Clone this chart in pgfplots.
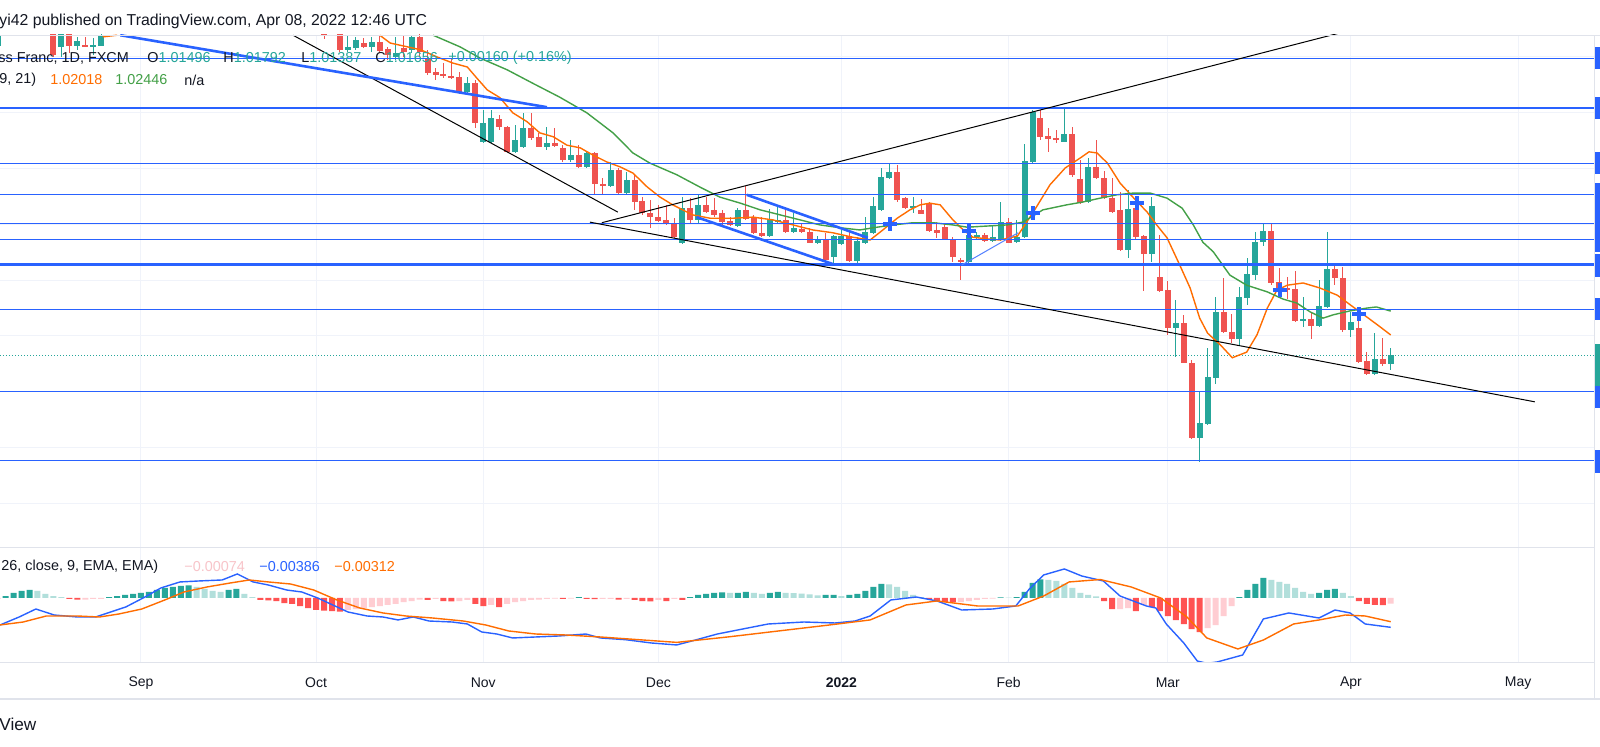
\documentclass[border=0pt]{standalone}
\usepackage{pgfplots}
\pgfplotsset{compat=1.18}
\usepackage{pgfplotstable}
\usepackage{fontspec}
\setmainfont{Liberation Sans}
\definecolor{upc}{HTML}{26A69A}
\definecolor{dnc}{HTML}{EF5350}
\definecolor{emao}{HTML}{FF6D00}
\definecolor{emag}{HTML}{43A047}
\definecolor{tvblue}{HTML}{2962FF}
\definecolor{txt}{HTML}{131722}
\definecolor{gridc}{HTML}{F0F3FA}
\definecolor{sepc}{HTML}{E0E3EB}
\definecolor{hT}{HTML}{26A69A}
\definecolor{hLT}{HTML}{B2DFDB}
\definecolor{hR}{HTML}{FF5252}
\definecolor{hP}{HTML}{FFCDD2}
\definecolor{pinktxt}{HTML}{F8C4C9}
\newcommand\fs[1]{\fontsize{#1}{#1}\selectfont}

\pgfplotstableread{
i o h l c
-18 1.0721 1.0745 1.0716 1.0738
-10 1.0718 1.0755 1.0700 1.0745
-8 1.0720 1.0736 1.0713 1.0729
-6 1.0718 1.0734 1.0704 1.0721
-5 1.0721 1.0745 1.0720 1.0738
26 1.0713 1.0739 1.0709 1.0718
27 1.0716 1.0736 1.0713 1.0730
29 1.0718 1.0736 1.0709 1.0727
32 1.0700 1.0736 1.0695 1.0707
34 1.0713 1.0739 1.0707 1.0736
41 1.0637 1.0664 1.0634 1.0653
43 1.0548 1.0605 1.0546 1.0582
44 1.0548 1.0605 1.0546 1.0591
47 1.0530 1.0578 1.0528 1.0551
48 1.0539 1.0600 1.0537 1.0573
51 1.0539 1.0575 1.0533 1.0546
54 1.0515 1.0551 1.0512 1.0524
56 1.0503 1.0530 1.0501 1.0528
59 1.0469 1.0512 1.0467 1.0497
61 1.0456 1.0494 1.0453 1.0480
68 1.0367 1.0449 1.0365 1.0429
70 1.0408 1.0453 1.0403 1.0435
75 1.0397 1.0429 1.0395 1.0426
79 1.0379 1.0428 1.0377 1.0408
80 1.0404 1.0431 1.0403 1.0408
82 1.0386 1.0420 1.0385 1.0394
85 1.0368 1.0379 1.0365 1.0372
87 1.0342 1.0381 1.0327 1.0379
88 1.0365 1.0390 1.0363 1.0379
90 1.0334 1.0377 1.0329 1.0370
91 1.0367 1.0413 1.0365 1.0386
92 1.0385 1.0449 1.0383 1.0433
93 1.0426 1.0501 1.0424 1.0485
94 1.0483 1.0510 1.0481 1.0494
97 1.0429 1.0449 1.0420 1.0433
104 1.0333 1.0399 1.0331 1.0381
105 1.0377 1.0386 1.0374 1.0381
107 1.0370 1.0399 1.0368 1.0377
108 1.0372 1.0440 1.0370 1.0404
110 1.0368 1.0408 1.0367 1.0377
111 1.0377 1.0544 1.0376 1.0514
112 1.0512 1.0605 1.0510 1.0601
116 1.0549 1.0610 1.0548 1.0562
119 1.0440 1.0519 1.0438 1.0503
124 1.0354 1.0462 1.0340 1.0428
127 1.0347 1.0449 1.0333 1.0433
130 1.0214 1.0265 1.0162 1.0223
133 1.0017 1.0100 0.9974 1.0044
134 1.0042 1.0178 1.0041 1.0127
135 1.0125 1.0270 1.0114 1.0243
138 1.0195 1.0288 1.0184 1.0270
139 1.0268 1.0340 1.0256 1.0311
140 1.0309 1.0386 1.0300 1.0368
141 1.0368 1.0403 1.0361 1.0388
146 1.0227 1.0270 1.0216 1.0230
148 1.0218 1.0300 1.0216 1.0254
149 1.0252 1.0386 1.0250 1.0320
152 1.0211 1.0243 1.0198 1.0225
155 1.0132 1.0205 1.0130 1.0159
157 1.01496 1.01792 1.01387 1.01656
}\upcandles

\pgfplotstableread{
i o h l c
-11 1.0750 1.0760 1.0700 1.0704
-9 1.0745 1.0755 1.0707 1.0720
-7 1.0721 1.0736 1.0717 1.0718
23 1.0745 1.0750 1.0733 1.0738
25 1.0745 1.0750 1.0709 1.0713
28 1.0725 1.0734 1.0716 1.0718
30 1.0727 1.0739 1.0707 1.0711
31 1.0713 1.0718 1.0695 1.0704
33 1.0716 1.0739 1.0700 1.0709
35 1.0736 1.0742 1.0700 1.0709
36 1.0698 1.0713 1.0668 1.0671
37 1.0673 1.0680 1.0659 1.0668
38 1.0670 1.0689 1.0662 1.0666
39 1.0666 1.0698 1.0661 1.0662
40 1.0664 1.0673 1.0634 1.0637
42 1.0653 1.0659 1.0573 1.0582
45 1.0589 1.0596 1.0569 1.0575
46 1.0575 1.0577 1.0528 1.0530
49 1.0573 1.0600 1.0551 1.0555
50 1.0557 1.0564 1.0538 1.0539
52 1.0546 1.0573 1.0539 1.0541
53 1.0537 1.0542 1.0512 1.0515
55 1.0524 1.0542 1.0501 1.0503
57 1.0528 1.0530 1.0453 1.0472
58 1.0472 1.0483 1.0453 1.0469
60 1.0497 1.0501 1.0455 1.0456
62 1.0480 1.0489 1.0426 1.0440
63 1.0442 1.0449 1.0417 1.0420
64 1.0420 1.0444 1.0394 1.0413
65 1.0413 1.0435 1.0404 1.0406
66 1.0408 1.0435 1.0399 1.0401
67 1.0403 1.0411 1.0376 1.0377
69 1.0429 1.0447 1.0403 1.0408
71 1.0435 1.0449 1.0420 1.0422
72 1.0426 1.0447 1.0413 1.0417
73 1.0420 1.0426 1.0399 1.0404
74 1.0406 1.0413 1.0397 1.0399
76 1.0426 1.0469 1.0408 1.0411
77 1.0413 1.0417 1.0383 1.0385
78 1.0385 1.0413 1.0378 1.0379
81 1.0408 1.0431 1.0385 1.0386
83 1.0392 1.0403 1.0385 1.0386
84 1.0386 1.0394 1.0367 1.0368
86 1.0372 1.0385 1.0333 1.0336
89 1.0379 1.0386 1.0333 1.0334
95 1.0494 1.0506 1.0440 1.0444
96 1.0446 1.0449 1.0428 1.0429
98 1.0426 1.0446 1.0418 1.0419
99 1.0438 1.0440 1.0386 1.0388
100 1.0390 1.0404 1.0376 1.0385
101 1.0395 1.0403 1.0372 1.0374
102 1.0374 1.0377 1.0333 1.0342
103 1.0336 1.0340 1.0300 1.0333
106 1.0381 1.0385 1.0368 1.0370
109 1.0404 1.0411 1.0367 1.0368
113 1.0591 1.0605 1.0551 1.0557
114 1.0558 1.0573 1.0530 1.0553
115 1.0555 1.0569 1.0546 1.0551
117 1.0562 1.0575 1.0485 1.0489
118 1.0481 1.0515 1.0437 1.0438
120 1.0503 1.0551 1.0481 1.0483
121 1.0483 1.0496 1.0446 1.0447
122 1.0447 1.0483 1.0421 1.0422
123 1.0426 1.0458 1.0352 1.0354
125 1.0429 1.0444 1.0374 1.0377
126 1.0379 1.0381 1.0281 1.0347
128 1.0306 1.0381 1.0279 1.0281
129 1.0282 1.0299 1.0202 1.0214
131 1.0223 1.0238 1.0151 1.0152
132 1.0152 1.0157 1.0016 1.0017
136 1.0243 1.0304 1.0205 1.0207
137 1.0207 1.0239 1.0187 1.0195
142 1.0388 1.0403 1.0291 1.0295
143 1.0297 1.0322 1.0268 1.0282
144 1.0286 1.0306 1.0266 1.0282
145 1.0284 1.0316 1.0225 1.0227
147 1.0230 1.0241 1.0195 1.0218
150 1.0320 1.0331 1.0291 1.0304
151 1.0304 1.0324 1.0207 1.0211
153 1.0214 1.0250 1.0152 1.0153
154 1.0155 1.0171 1.0130 1.0132
156 1.0159 1.0196 1.0146 1.01496
}\downcandles

\pgfplotsset{
  candle/.style 2 args={only marks, mark=*, mark size=0pt,
    mark options={draw=none, fill=none},
    error bars/.cd, y dir=both, y explicit, error mark=none,
    error bar style={draw=#1, line width=#2}},
}

\begin{document}
\begin{tikzpicture}
\fill[white] (0,0) rectangle (800pt,373.5pt);
\path[use as bounding box] (0,0) rectangle (800pt,373.5pt);

% ---------------- price pane ----------------
\begin{axis}[
  at={(0pt,99.5pt)}, anchor=south west, scale only axis,
  width=797pt, height=256.5pt,
  xmin=-17.71, xmax=182.54, ymin=0.982007, ymax=1.073942,
  axis line style={draw=none}, tick style={draw=none}, major tick length=0pt,
  xtick={0,22,43,65,88,109,129,152,173},
  ytick={0.99,1,1.01,1.02,1.03,1.04,1.05,1.06,1.07},
  xticklabels={}, yticklabels={},
  grid=major, grid style={draw=gridc, line width=0.5pt},
]
% last price line
\addplot[upc, line width=0.5pt, dash pattern=on 0.5pt off 1pt] coordinates {(-17.71,1.01656) (182.54,1.01656)};

% wicks
\addplot[candle={upc}{0.5pt}]
  table[x=i, y expr={(\thisrow{h}+\thisrow{l})/2}, y error expr={(\thisrow{h}-\thisrow{l})/2}] {\upcandles};
\addplot[candle={dnc}{0.5pt}]
  table[x=i, y expr={(\thisrow{h}+\thisrow{l})/2}, y error expr={(\thisrow{h}-\thisrow{l})/2}] {\downcandles};
% bodies
\addplot[candle={upc}{3pt}]
  table[x=i, y expr={(\thisrow{o}+\thisrow{c})/2}, y error expr={abs(\thisrow{c}-\thisrow{o})/2+0.00004}] {\upcandles};
\addplot[candle={dnc}{3pt}]
  table[x=i, y expr={(\thisrow{o}+\thisrow{c})/2}, y error expr={abs(\thisrow{c}-\thisrow{o})/2+0.00004}] {\downcandles};

% EMA 9 (orange)
\addplot[emao, line width=0.7pt] coordinates {(-4.8,1.0736) (-3.0,1.0739)};
\addplot[emao, line width=0.7pt] coordinates {
(30.0,1.0739) (31.3,1.0725) (35.1,1.0713) (37.2,1.0700) (39.2,1.0689) (41.0,1.0682)
(42.2,1.0662) (43.5,1.0641) (45.1,1.0627) (46.7,1.0600) (48.5,1.0584) (50.1,1.0564)
(51.8,1.0557) (53.5,1.0542) (55.2,1.0537) (56.8,1.0524) (58.5,1.0512) (60.2,1.0503)
(61.8,1.0492) (63.6,1.0467) (65.2,1.0449) (66.8,1.0435) (69.3,1.0417) (71.5,1.0411)
(74.4,1.0411) (76.9,1.0413) (79.4,1.0408) (81.9,1.0399) (84.4,1.0390) (86.9,1.0385)
(89.4,1.0377) (91.6,1.0372) (93.2,1.0390) (95.0,1.0411) (96.6,1.0426) (97.9,1.0435)
(99.1,1.0438) (100.4,1.0435) (102.0,1.0408) (103.3,1.0390) (104.5,1.0377) (106.3,1.0374)
(107.9,1.0372) (110.1,1.0379) (112.1,1.0422) (114.2,1.0471) (116.1,1.0501) (118.0,1.0519)
(119.1,1.0530) (120.1,1.0528) (121.4,1.0510) (123.0,1.0474) (124.6,1.0449) (126.4,1.0422)
(127.6,1.0399) (128.9,1.0376) (130.5,1.0327) (131.8,1.0286) (133.0,1.0232) (134.0,1.0205)
(135.6,1.0184) (137.1,1.0161) (138.9,1.0171) (140.2,1.0202) (141.5,1.0250) (142.7,1.0282)
(144.0,1.0291) (146.0,1.0295) (148.1,1.0286) (150.3,1.0273) (151.9,1.0256) (154.0,1.0234)
(155.7,1.0216) (157.0,1.02018)};
% EMA 21 (green)
\addplot[emag, line width=0.7pt] coordinates {
(36.7,1.0739) (40.1,1.0718) (42.6,1.0698) (46.0,1.0677) (49.2,1.0653) (52.6,1.0628)
(56.0,1.0600) (59.3,1.0564) (61.8,1.0528) (63.9,1.0510) (67.3,1.0489) (70.2,1.0467)
(72.7,1.0449) (75.3,1.0438) (77.8,1.0426) (80.3,1.0417) (82.8,1.0408) (85.3,1.0399)
(87.8,1.0394) (90.3,1.0390) (92.5,1.0395) (94.5,1.0399) (97.0,1.0403) (99.5,1.0403)
(102.0,1.0399) (103.8,1.0395) (106.3,1.0397) (108.8,1.0399) (110.8,1.0404) (113.3,1.0426)
(116.3,1.0435) (118.3,1.0440) (120.5,1.0447) (122.6,1.0453) (124.6,1.0456) (126.8,1.0456)
(128.9,1.0447) (130.8,1.0429) (132.2,1.0399) (133.4,1.0368) (134.7,1.0351) (136.8,1.0309)
(138.9,1.0291) (141.5,1.0279) (143.5,1.0266) (145.2,1.0259) (146.9,1.0243) (148.5,1.0232)
(149.8,1.0238) (151.9,1.0245) (154.0,1.0250) (155.2,1.0252) (157.0,1.02446)};

% horizontal levels
\addplot[tvblue, line width=0.5pt] coordinates {(-17.71,1.0698) (182.54,1.0698)};
\addplot[tvblue, line width=1.1pt] coordinates {(-17.71,1.0609) (182.54,1.0609)};
\addplot[tvblue, line width=0.5pt] coordinates {(-17.71,1.0509) (182.54,1.0509)};
\addplot[tvblue, line width=0.5pt] coordinates {(-17.71,1.0453) (182.54,1.0453)};
\addplot[tvblue, line width=0.5pt] coordinates {(-17.71,1.0402) (182.54,1.0402)};
\addplot[tvblue, line width=0.5pt] coordinates {(-17.71,1.0372) (182.54,1.0372)};
\addplot[tvblue, line width=1.1pt] coordinates {(-17.71,1.0328) (182.54,1.0328)};
\addplot[tvblue, line width=0.5pt] coordinates {(-17.71,1.0248) (182.54,1.0248)};
\addplot[tvblue, line width=0.5pt] coordinates {(-17.71,1.0101) (182.54,1.0101)};
\addplot[tvblue, line width=0.5pt] coordinates {(-17.71,0.9976) (182.54,0.9976)};

% trend lines
\addplot[black, line width=0.5pt] coordinates {(19.1,1.0739) (59.9,1.0422)};
\addplot[black, line width=0.5pt] coordinates {(56.4,1.0404) (175.1,1.0082)};
\addplot[black, line width=0.5pt] coordinates {(57.9,1.0403) (150.6,1.0743)};
\addplot[tvblue, line width=1.3pt] coordinates {(-2.6,1.0739) (51.0,1.0610)};
\addplot[tvblue, line width=1.3pt] coordinates {(76.1,1.0453) (91.3,1.0376)};
\addplot[tvblue, line width=1.3pt] coordinates {(69.8,1.0413) (86.9,1.0329)};
\addplot[tvblue!80, line width=0.5pt] coordinates {(103.1,1.0327) (110.2,1.0385)};

% cross markers
\addplot[only marks, mark=+, mark size=3.5pt, mark options={line width=2pt, draw=tvblue}]
 coordinates {(94.1,1.0401) (104.0,1.0388) (112.1,1.0420) (125.1,1.0438) (143.1,1.0282) (153.0,1.0239)};
\end{axis}

% ---------------- MACD pane ----------------
\begin{axis}[
  at={(0pt,42pt)}, anchor=south west, scale only axis,
  width=797pt, height=57.5pt,
  xmin=-17.71, xmax=182.54, ymin=-0.008553, ymax=0.006579,
  axis line style={draw=none}, tick style={draw=none}, major tick length=0pt,
  xtick={0,22,43,65,88,109,129,152,173}, ytick=\empty,
  xticklabels={Sep,Oct,Nov,Dec,\textbf{2022},Feb,Mar,Apr,May},
  xticklabel style={font=\fs{7}, text=txt, anchor=center, yshift=-10pt},
  xmajorgrids=true, grid style={draw=gridc, line width=0.5pt},
]
\addplot[ybar, bar width=3pt, bar shift=0pt, fill=hT, draw=none] coordinates {
(-17,0.00026) (-16,0.00066) (-15,0.00092) (-14,0.00106)
(-4,0.00013) (-3,0.00026) (-2,0.0004) (-1,0.00053) (0,0.00066) (1,0.00079) (2,0.00106) (3,0.00132) (4,0.00145) (5,0.00158) (6,0.00165)
(11,0.00106) (12,0.00119) (55,0.00013)
(69,0.00013) (70,0.0004) (71,0.00053) (72,0.00066) (73,0.00073) (75,0.00066) (76,0.00079) (79,0.00066) (80,0.00079) (86,0.0004) (87,0.0004) (89,0.0004) (90,0.00053) (91,0.00092) (92,0.00145) (93,0.00185)
(108,0.00007) (110,0.0001) (111,0.00079) (112,0.00198) (113,0.00244)
(138,0.00013) (139,0.00106) (140,0.00185) (141,0.00264)
(148,0.00066) (149,0.00106) (150,0.00119)};
\addplot[ybar, bar width=3pt, bar shift=0pt, fill=hLT, draw=none] coordinates {
(-13,0.00092) (-12,0.00053) (-11,0.00026) (-10,0.00013)
(7,0.00145) (8,0.00119) (9,0.00092) (10,0.00079) (13,0.00053) (14,0.00013)
(74,0.00066) (77,0.00066) (78,0.00053) (81,0.00066) (82,0.00063) (83,0.00059) (84,0.00046) (85,0.00033) (88,0.00026)
(94,0.00178) (95,0.00145) (96,0.00092) (97,0.0004) (98,0.00013) (109,0.00005)
(114,0.00238) (115,0.00224) (116,0.00185) (117,0.00132) (118,0.00066) (119,0.0004) (120,0.0002)
(142,0.00238) (143,0.00211) (144,0.00185) (145,0.00132) (146,0.00079) (147,0.00053)
(151,0.00066) (152,0.00026)};
\addplot[ybar, bar width=3pt, bar shift=0pt, fill=hR, draw=none] coordinates {
(-9,-0.00013) (-8,-0.0002)
(15,-0.00026) (16,-0.00033) (17,-0.0004) (18,-0.00066) (19,-0.00079) (20,-0.00106) (21,-0.00132) (22,-0.00158) (23,-0.00165) (24,-0.00172) (25,-0.00178)
(36,-0.00026) (38,-0.0004) (39,-0.00046) (42,-0.00079) (43,-0.00106) (45,-0.00119) (53,-0.00013) (56,-0.00013) (57,-0.00015)
(60,-0.0002) (62,-0.00026) (63,-0.0004) (64,-0.00046) (66,-0.0004) (68,-0.00026)
(99,-0.00013) (100,-0.0004) (101,-0.00053) (102,-0.00059)
(121,-0.0004) (122,-0.00145) (125,-0.00172) (127,-0.00119) (128,-0.00172) (129,-0.00238) (130,-0.0029) (131,-0.00343) (132,-0.00409) (133,-0.00449)
(153,-0.0004) (154,-0.00079) (155,-0.00092) (156,-0.00093)};
\addplot[ybar, bar width=3pt, bar shift=0pt, fill=hP, draw=none] coordinates {
(-18,-0.00013) (-7,-0.0002) (-6,-0.00013) (-5,-0.00013)
(26,-0.00158) (27,-0.00145) (28,-0.00132) (29,-0.00119) (30,-0.00106) (31,-0.00092) (32,-0.00079) (33,-0.00053) (34,-0.0004) (35,-0.0002)
(37,-0.00013) (40,-0.0004) (41,-0.00026) (44,-0.00092) (46,-0.00079) (47,-0.00053) (48,-0.0004) (49,-0.00026) (50,-0.0002) (51,-0.00013) (52,-0.00007) (54,-0.00007)
(58,-0.00013) (59,-0.00012) (61,-0.00013) (65,-0.00026) (67,-0.00013)
(103,-0.00053) (104,-0.0004) (105,-0.00026) (106,-0.00013) (107,-0.00007)
(123,-0.00145) (124,-0.00132) (126,-0.00092)
(134,-0.00396) (135,-0.00356) (136,-0.00238) (137,-0.00106)
(157,-0.00074)};
% MACD line
\addplot[tvblue, line width=0.7pt] coordinates {
(-17.7,-0.00355) (-15.3,-0.0025) (-13.2,-0.00145) (-10.9,-0.00224) (-8.0,-0.0025) (-5.7,-0.0025)
(-3.8,-0.00184) (-1.9,-0.00118) (0.5,0.00013) (2.5,0.00132) (4.9,0.00211) (7.3,0.00224)
(10.2,0.00237) (12.1,0.00316) (14.1,0.00211) (16.0,0.00171) (18.3,0.00105) (20.2,0.00079)
(22.2,0) (24.1,-0.00092) (26.0,-0.00184) (28.4,-0.00237) (30.4,-0.0025) (32.3,-0.00289)
(34.2,-0.0025) (36.2,-0.00303) (39.1,-0.00316) (41.0,-0.00342) (42.8,-0.00447) (44.7,-0.00474)
(46.7,-0.00526) (49.6,-0.00513) (52.5,-0.005) (55.9,-0.00474) (57.7,-0.00526) (60.9,-0.00549)
(64.1,-0.00592) (67.3,-0.00618) (69.2,-0.00566) (72.4,-0.00474) (75.6,-0.00408) (78.8,-0.00342)
(83.3,-0.00316) (87.2,-0.00329) (89.7,-0.00303) (91.6,-0.00237) (94.2,-0.00026) (97.4,0.00013)
(100.0,-0.00039) (103.1,-0.00158) (107.0,-0.00145) (109.9,-0.00105) (111.6,0.00118) (113.4,0.00303)
(116.0,0.00382) (118.2,0.00289) (120.9,0.00224) (123.0,0.00026) (126.3,-0.00105) (127.5,-0.00132)
(128.8,-0.00342) (131.0,-0.00592) (132.7,-0.00829) (133.9,-0.0086) (135.2,-0.00842) (138.4,-0.0075)
(141.0,-0.00276) (144.2,-0.00197) (148.0,-0.00263) (150.0,-0.00158) (151.9,-0.00197) (153.8,-0.00342)
(157.0,-0.00386)};
% signal line
\addplot[emao, line width=0.7pt] coordinates {
(-17.7,-0.00355) (-14.8,-0.00316) (-11.9,-0.00237) (-8.0,-0.00237) (-5.2,-0.0025) (-2.8,-0.00211)
(0.1,-0.00145) (3.0,-0.00026) (5.4,0.00079) (8.3,0.00145) (11.2,0.00197) (13.6,0.00237)
(16.0,0.00211) (18.8,0.00184) (21.7,0.00105) (24.6,-0.00026) (27.5,-0.00132) (30.4,-0.00197)
(33.3,-0.00237) (36.6,-0.00263) (40.5,-0.00303) (43.3,-0.00355) (46.2,-0.00434) (49.6,-0.00474)
(53.4,-0.00487) (57.7,-0.00513) (67.3,-0.00584) (73.7,-0.00513) (80.1,-0.00434) (86.5,-0.00355)
(91.6,-0.00289) (96.1,-0.00092) (100.0,-0.00039) (105.1,-0.00105) (110.2,-0.00105) (113.4,0.00026)
(116.6,0.00211) (120.5,0.00243) (124.4,0.00145) (128.1,0) (131.4,-0.0025) (133.9,-0.00526)
(137.8,-0.00671) (141.0,-0.00553) (144.8,-0.00342) (148.0,-0.00289) (151.3,-0.00224) (153.8,-0.00237)
(157.0,-0.00312)};
\end{axis}

\begin{scope}[x=0.5pt, y=-0.5pt, shift={(0pt,373.5pt)}]
% ---------------- frame, separators ----------------
\draw[sepc, line width=0.5pt] (0,35.5) -- (1600,35.5);
\draw[sepc, line width=0.5pt] (0,548) -- (1594,548);
\draw[sepc, line width=0.5pt] (0,663) -- (1594,663);
\draw[sepc, line width=1.2pt] (0,699) -- (1600,699);
\draw[sepc, line width=0.5pt] (1594.5,35.5) -- (1594.5,699);
% right scale label stubs
\fill[tvblue] (1595,47) rectangle (1600,69);
\fill[tvblue] (1595,97) rectangle (1600,119);
\fill[tvblue] (1595,152) rectangle (1600,174);
\fill[tvblue] (1595,183) rectangle (1600,252);
\fill[tvblue] (1595,254) rectangle (1600,277);
\fill[tvblue] (1595,298) rectangle (1600,320);
\fill[upc] (1595,344) rectangle (1600,386);
\fill[tvblue] (1595,386) rectangle (1600,408);
\fill[tvblue] (1595,450) rectangle (1600,473);

% ---------------- texts ----------------
\node[anchor=west, inner sep=0, text=txt, font=\fs{7.9}] at (-1,21) {yi42 published on TradingView.com, Apr 08, 2022 12:46 UTC};
\node[anchor=west, inner sep=0, text=txt, font=\fs{7.2}] at (-2,58) {ss Franc, 1D, FXCM};
\node[anchor=west, inner sep=0, font=\fs{7.2}] at (147,58) {\textcolor{txt}{O}\textcolor{upc}{1.01496}};
\node[anchor=west, inner sep=0, font=\fs{7.2}] at (223,58) {\textcolor{txt}{H}\textcolor{upc}{1.01792}};
\node[anchor=west, inner sep=0, font=\fs{7.2}] at (301,58) {\textcolor{txt}{L}\textcolor{upc}{1.01387}};
\node[anchor=west, inner sep=0, font=\fs{7.2}] at (375,58) {\textcolor{txt}{C}\textcolor{upc}{1.01656}};
\node[anchor=west, inner sep=0, text=upc, font=\fs{7.2}] at (448,58) {+0.00160 (+0.16\%)};
\node[anchor=west, inner sep=0, text=txt, font=\fs{7.2}] at (-1,80) {9, 21)};
\node[anchor=west, inner sep=0, text=emao, font=\fs{7.2}] at (50,80) {1.02018};
\node[anchor=west, inner sep=0, text=emag, font=\fs{7.2}] at (115,80) {1.02446};
\node[anchor=west, inner sep=0, text=txt, font=\fs{7.2}] at (184,80) {n/a};
\node[anchor=west, inner sep=0, text=txt, font=\fs{7.2}] at (1,567) {26, close, 9, EMA, EMA)};
\node[anchor=west, inner sep=0, text=pinktxt, font=\fs{7.2}] at (184,567) {−0.00074};
\node[anchor=west, inner sep=0, text=tvblue, font=\fs{7.2}] at (259,567) {−0.00386};
\node[anchor=west, inner sep=0, text=emao, font=\fs{7.2}] at (334,567) {−0.00312};
\node[anchor=west, inner sep=0, text=txt, font=\fs{8.6}] at (-1,724) {View};
\end{scope}
\end{tikzpicture}
\end{document}
